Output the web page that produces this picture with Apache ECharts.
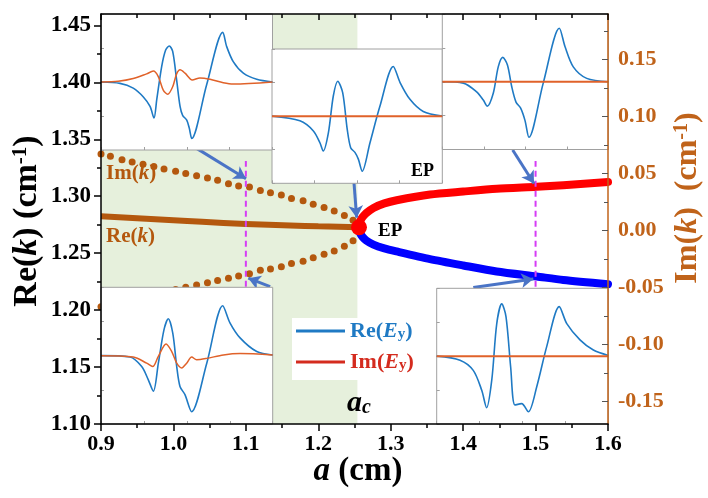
<!DOCTYPE html>
<html><head><meta charset="utf-8">
<script src="https://cdn.jsdelivr.net/npm/echarts@6/dist/echarts.min.js"></script>
<style>html,body{margin:0;padding:0;background:#fff}#c{width:708px;height:498px}</style>
</head><body><div id="c"></div>
<script>
// ---------------- main chart data ----------------
const aC = 1.254;                       // edge of shaded region (a_c)
const leftLabels  = [1.10,1.15,1.20,1.25,1.30,1.35,1.40,1.45];
const leftMinor   = [1.125,1.175,1.225,1.275,1.325,1.375,1.425];
const rightLabels = [-0.15,-0.10,-0.05,0.00,0.05,0.10,0.15];
const rightMinor  = [-0.125,-0.075,-0.025,0.025,0.075,0.125,0.175];

// Im(k) dotted branches (right axis)
const imA     = [0.900,0.913,0.929,0.943,0.958,0.973,0.987,1.003,1.017,1.032,1.047,1.061,1.076,1.090,1.105,1.120,1.134,1.149,1.163,1.179,1.193,1.208,1.222,1.236,1.248];
const imUpper = [0.067,0.065,0.062,0.060,0.058,0.056,0.054,0.052,0.050,0.048,0.046,0.044,0.041,0.039,0.038,0.035,0.033,0.031,0.028,0.026,0.023,0.020,0.017,0.013,0.009];
const imLower = [-0.067,-0.065,-0.062,-0.060,-0.058,-0.056,-0.054,-0.052,-0.050,-0.048,-0.046,-0.044,-0.042,-0.040,-0.038,-0.035,-0.034,-0.032,-0.029,-0.027,-0.024,-0.021,-0.018,-0.014,-0.009];

// Re(k) single line (left axis)
const reA = [0.900,1.000,1.100,1.200,1.256];
const reV = [1.2824,1.2790,1.2757,1.2737,1.2727];

// split branches above EP (left axis)
const redA  = [1.2562,1.2567,1.2582,1.2612,1.2662,1.2762,1.2912,1.3083,1.3543,1.4002,1.4463,1.5016,1.5383,1.6000];
const redV  = [1.2727,1.2757,1.2787,1.2817,1.2852,1.2897,1.2937,1.2965,1.3015,1.3041,1.3065,1.3083,1.3097,1.3125];
const blueA = [1.2562,1.2567,1.2582,1.2612,1.2662,1.2762,1.2912,1.3083,1.3543,1.4002,1.4463,1.5016,1.5383,1.6000];
const blueV = [1.2727,1.2697,1.2669,1.2642,1.2612,1.2575,1.2542,1.2515,1.2448,1.2392,1.2339,1.2295,1.2265,1.2228];

const epPoint = [1.2562,1.2727];
const dashA = [1.10,1.50];
const dashRange = [1.2206,1.3309];

// arrows [from a, from v, to a, to v]
const arrows = [
  [1.0298,1.3429,1.1002,1.3153],
  [1.1335,1.2206,1.1034,1.2280],
  [1.2493,1.3118,1.2530,1.2812],
  [1.4684,1.3406,1.4978,1.3112],
  [1.4140,1.2198,1.4969,1.2274]
];

// ---------------- inset spectra (normalised x, field amplitude) ----------------
const insetA_re = [[0,0],[.111,-.02],[.188,-.09],[.247,-.22],[.286,-.36],[.309,-.53],[.325,-.26],[.354,.23],[.377,.47],[.398,.53],[.418,.45],[.441,.03],[.461,-.36],[.476,-.49],[.500,-.56],[.515,-.68],[.529,-.83],[.616,-.04],[.710,.73],[.733,.52],[.771,.30],[.830,.13],[.908,.04],[1,0]];
const insetA_im = [[0,0],[.100,.01],[.188,.05],[.266,.12],[.305,.16],[.334,.08],[.363,-.12],[.389,-.18],[.418,-.07],[.441,.12],[.461,.18],[.490,.13],[.532,.03],[.577,.06],[.636,.04],[.713,-.01],[.771,-.03],[1,0]];
const insetA_lines = [.299,.480,.529,.713];

const insetB_re = [[0,0],[.164,-.07],[.243,-.22],[.282,-.40],[.301,-.52],[.331,-.25],[.360,.30],[.386,.52],[.415,.35],[.442,-.20],[.462,-.47],[.487,-.54],[.507,-.64],[.530,-.82],[.575,-.40],[.634,.15],[.712,.74],[.752,.50],[.810,.25],[.888,.07],[1,0]];
const insetB_im = [[0,0],[1,0]];
const insetB_lines = [.288,.471,.530,.712];

const insetC_re = [[0,0],[.127,-.02],[.207,-.15],[.247,-.27],[.271,-.36],[.307,-.17],[.337,.22],[.364,.36],[.392,.25],[.418,-.07],[.444,-.30],[.472,-.39],[.498,-.57],[.522,-.82],[.608,-.02],[.705,.79],[.739,.52],[.789,.22],[.870,.05],[1,0]];
const insetC_im = [[0,0],[1,0]];
const insetC_lines = [.263,.452,.518,.705];

const insetD_re = [[0,0],[.169,-.02],[.237,-.16],[.275,-.35],[.305,-.52],[.334,-.11],[.367,.38],[.392,.54],[.418,.33],[.441,-.16],[.460,-.45],[.489,-.57],[.528,-.82],[.616,-.11],[.709,.73],[.751,.48],[.810,.26],[.907,.06],[1,.01]];
const insetD_im = [[0,0],[.188,-.02],[.266,-.11],[.301,-.16],[.334,-.01],[.379,.17],[.412,.06],[.441,-.11],[.470,-.18],[.499,-.11],[.528,-.02],[.557,-.06],[.616,-.04],[.713,.01],[.810,.03],[1,.01]];
const insetD_lines = [.291,.474,.524,.709];

const insetE_re = [[0,0],[.136,-.06],[.213,-.21],[.262,-.50],[.291,-.76],[.321,-.35],[.350,.48],[.379,.77],[.404,.58],[.431,-.16],[.456,-.72],[.495,-.70],[.534,-.82],[.583,-.45],[.641,.14],[.714,.73],[.758,.48],[.835,.24],[.913,.09],[1,.01]];
const insetE_im = [[0,0],[1,0]];
const insetE_lines = [.281,.462,.534,.714];

// ---------------- styles ----------------
const FONT = 'Liberation Serif';
const BROWN = '#b4580e', BROWN_AX = '#c0631a';
const ARROW = '#4a74c6', MAGENTA = '#d63cf5', GREEN = '#e6f0dc';
const IBLUE = '#1f7ac4', IORANGE = '#e0622a', IYELLOW = '#f6d28a', IGREY = '#a0a0a0';
const LRED = '#d42b1e';

function rt(size, color, style, extra){
  return Object.assign({fontFamily:FONT, fontSize:size, fill:color, fontWeight:'bold', fontStyle:style||'normal'}, extra||{});
}
const zip = (a,b)=>a.map((x,i)=>[x,b[i]]);

const chart = echarts.init(document.getElementById('c'), null, {renderer:'canvas'});

const grids = [{left:101, top:14, width:507, height:410, show:false}];
const xAxes = [
  {gridIndex:0, type:'value', min:0.9, max:1.6, interval:0.1, position:'bottom', z:20,
   axisLine:{onZero:false, lineStyle:{color:'#000', width:1.5}},
   axisTick:{inside:false, length:7, lineStyle:{color:'#000', width:1.5}},
   minorTick:{show:true, splitNumber:2, length:4, lineStyle:{color:'#000', width:1.5}},
   splitLine:{show:false}, minorSplitLine:{show:false},
   axisLabel:{formatter:v=>v.toFixed(1), fontFamily:FONT, fontWeight:'bold', fontSize:22, color:'#000', margin:9}},
  {gridIndex:0, type:'value', min:0.9, max:1.6, interval:0.1, position:'top', z:20,
   axisLine:{onZero:false, lineStyle:{color:'#000', width:1.5}},
   axisTick:{inside:true, length:6, lineStyle:{color:'#000', width:1.5}},
   minorTick:{show:true, splitNumber:2, length:4, lineStyle:{color:'#000', width:1.5}},
   splitLine:{show:false}, minorSplitLine:{show:false}, axisLabel:{show:false}}
];
const yAxes = [
  {gridIndex:0, type:'value', min:1.10, max:1.46, position:'left', z:20,
   axisLine:{show:true, onZero:false, lineStyle:{color:'#000', width:1.5}},
   axisTick:{show:true, inside:false, length:7, customValues:leftLabels, lineStyle:{color:'#000', width:1.5}},
   axisLabel:{customValues:leftLabels, formatter:v=>v.toFixed(2), fontFamily:FONT, fontWeight:'bold', fontSize:23, color:'#000', margin:10},
   splitLine:{show:false}},
  {gridIndex:0, type:'value', min:-0.17, max:0.19, position:'right', z:20,
   axisLine:{show:true, onZero:false, lineStyle:{color:BROWN_AX, width:1.5}},
   axisTick:{show:true, inside:true, length:6, customValues:rightLabels, lineStyle:{color:'#555', width:1}},
   axisLabel:{customValues:rightLabels, formatter:v=>v.toFixed(2), fontFamily:FONT, fontWeight:'bold', fontSize:22, color:BROWN_AX, margin:10},
   splitLine:{show:false}},
  {gridIndex:0, type:'value', min:1.10, max:1.46, position:'left', z:20,
   axisLine:{show:false, onZero:false}, axisLabel:{show:false}, splitLine:{show:false},
   axisTick:{show:true, inside:false, length:4, customValues:leftMinor, lineStyle:{color:'#000', width:1.5}}},
  {gridIndex:0, type:'value', min:-0.17, max:0.19, position:'right', z:20,
   axisLine:{show:false, onZero:false}, axisLabel:{show:false}, splitLine:{show:false},
   axisTick:{show:true, inside:true, length:4, customValues:rightMinor, lineStyle:{color:'#555', width:1}}}
];

const series = [
  {type:'line', xAxisIndex:0, yAxisIndex:0, data:[], z:1, silent:true,
   markArea:{silent:true, itemStyle:{color:GREEN}, data:[[{xAxis:0.9},{xAxis:aC}]]}},
  {type:'scatter', xAxisIndex:0, yAxisIndex:1, data:zip(imA, imUpper), symbolSize:7, itemStyle:{color:BROWN, opacity:1}, z:3, silent:true},
  {type:'scatter', xAxisIndex:0, yAxisIndex:1, data:zip(imA, imLower), symbolSize:7, itemStyle:{color:BROWN, opacity:1}, z:3, silent:true},
  {type:'line', xAxisIndex:0, yAxisIndex:0, data:zip(reA, reV), showSymbol:false, smooth:true, lineStyle:{color:BROWN, width:6}, z:3, silent:true},
  {type:'line', xAxisIndex:0, yAxisIndex:0, data:zip(redA, redV), showSymbol:false, smooth:0.25, lineStyle:{color:'#ff0000', width:8, cap:'round', join:'round'}, z:4, silent:true},
  {type:'line', xAxisIndex:0, yAxisIndex:0, data:zip(blueA, blueV), showSymbol:false, smooth:0.25, lineStyle:{color:'#0000ff', width:8, cap:'round', join:'round'}, z:4, silent:true},
  {type:'scatter', xAxisIndex:0, yAxisIndex:0, data:[epPoint], symbolSize:16, itemStyle:{color:'#ff0000', opacity:1}, z:6, silent:true},
];
dashA.forEach(a=>{
  series.push({type:'line', xAxisIndex:0, yAxisIndex:0, data:[[a,dashRange[0]],[a,dashRange[1]]], showSymbol:false,
    lineStyle:{color:MAGENTA, width:2, type:[6,4]}, z:4, silent:true});
});
series.push({type:'line', xAxisIndex:0, yAxisIndex:0, data:[], z:5, silent:true,
  markLine:{silent:true, symbol:['none','arrow'], symbolSize:[11,12], label:{show:false},
    lineStyle:{color:ARROW, width:3, type:'solid'},
    data:arrows.map(r=>[{coord:[r[0],r[1]]},{coord:[r[2],r[3]]}])}});

// ---------------- insets ----------------
const insets = [
  {pos:[101,14,171.5,136],    re:insetA_re, im:insetA_im, lines:insetA_lines, imW:1.5},
  {pos:[272,49,170.3,134.3],  re:insetB_re, im:insetB_im, lines:insetB_lines, imW:2},
  {pos:[442.3,14,166,135.5],  re:insetC_re, im:insetC_im, lines:insetC_lines, imW:2},
  {pos:[101,287.3,171.7,136.7], re:insetD_re, im:insetD_im, lines:insetD_lines, imW:1.5},
  {pos:[436.7,288.3,171.6,135.7], re:insetE_re, im:insetE_im, lines:insetE_lines, imW:2}
];
insets.forEach((ins,i)=>{
  const g = i+1, xi = xAxes.length, yi = yAxes.length;
  grids.push({left:ins.pos[0], top:ins.pos[1], width:ins.pos[2], height:ins.pos[3], show:true,
    backgroundColor:'#fff', borderColor:IGREY, borderWidth:1, z:10});
  xAxes.push({gridIndex:g, type:'value', min:0, max:1, interval:0.25, z:11,
    axisLine:{show:false, onZero:false}, axisLabel:{show:false}, splitLine:{show:false},
    axisTick:{show:true, inside:true, length:3, lineStyle:{color:IGREY}}});
  yAxes.push({gridIndex:g, type:'value', min:-1, max:1, interval:0.5, z:11,
    axisLine:{show:false, onZero:false}, axisLabel:{show:false}, splitLine:{show:false},
    axisTick:{show:true, inside:true, length:3, lineStyle:{color:IGREY}}});
  series.push({type:'line', xAxisIndex:xi, yAxisIndex:yi, data:[], z:11, silent:true,
    markLine:{silent:true, symbol:'none', label:{show:false},
      lineStyle:{color:IYELLOW, width:1, type:'solid'}, data:ins.lines.map(u=>({xAxis:u}))}});
  series.push({type:'line', xAxisIndex:xi, yAxisIndex:yi, data:ins.re, showSymbol:false, smooth:0.3,
    lineStyle:{color:IBLUE, width:1.6}, z:12, silent:true});
  series.push({type:'line', xAxisIndex:xi, yAxisIndex:yi, data:ins.im, showSymbol:false, smooth:0.3,
    lineStyle:{color:IORANGE, width:ins.imW}, z:13, silent:true});
});

// ---------------- texts ----------------
function txt(x,y,text,rich,opts){
  return Object.assign({type:'text', x:x, y:y, z:30, silent:true,
    style:{text:text, rich:rich, align:'left', verticalAlign:'middle', textAlign:'left', textVerticalAlign:'middle'}}, opts||{});
}
const graphics = [
  // legend box
  {type:'rect', z:29, silent:true, shape:{x:292,y:318,width:128,height:62}, style:{fill:'#fff'}},
  {type:'line', z:30, silent:true, shape:{x1:296,y1:331,x2:345,y2:331}, style:{stroke:IBLUE, lineWidth:3}},
  {type:'line', z:30, silent:true, shape:{x1:296,y1:362,x2:345,y2:362}, style:{stroke:LRED, lineWidth:3}},
  txt(350,331,'{n|Re(}{i|E}{s|y}{n|)}', {n:rt(22,IBLUE), i:rt(22,IBLUE,'italic'), s:rt(15,IBLUE,'normal',{verticalAlign:'bottom'})}),
  txt(350,362,'{n|Im(}{i|E}{s|y}{n|)}', {n:rt(22,LRED), i:rt(22,LRED,'italic'), s:rt(15,LRED,'normal',{verticalAlign:'bottom'})}),
  // in-plot labels
  txt(106,174,'{n|Im(}{i|k}{n|)}', {n:rt(21,BROWN), i:rt(21,BROWN,'italic')}),
  txt(106,237,'{n|Re(}{i|k}{n|)}', {n:rt(21,BROWN), i:rt(21,BROWN,'italic')}),
  txt(378,231,'{n|EP}', {n:rt(19,'#000')}),
  txt(411,171,'{n|EP}', {n:rt(18,'#000')}),
  txt(347,403,'{i|a}{s|c}', {i:rt(30,'#000','italic'), s:rt(20,'#000','italic',{verticalAlign:'bottom'})}),
  // axis titles
  {type:'text', x:27, y:221, z:30, silent:true, rotation:Math.PI/2,
   style:{text:'{n|Re(}{i|k}{n|) (cm}{p|-1}{n|)}', align:'center', verticalAlign:'middle', textAlign:'center', textVerticalAlign:'middle',
     rich:{n:rt(34,'#000'), i:rt(34,'#000','italic'), p:rt(21,'#000','normal',{verticalAlign:'top'})}}},
  {type:'text', x:688, y:198, z:30, silent:true, rotation:Math.PI/2,
   style:{text:'{n|Im(}{i|k}{n|)  (cm}{p|-1}{n|)}', align:'center', verticalAlign:'middle', textAlign:'center', textVerticalAlign:'middle',
     rich:{n:rt(32,BROWN_AX), i:rt(32,BROWN_AX,'italic'), p:rt(20,BROWN_AX,'normal',{verticalAlign:'top'})}}},
  {type:'text', x:358, y:471, z:30, silent:true,
   style:{text:'{i|a}{n| (cm)}', align:'center', verticalAlign:'middle', textAlign:'center', textVerticalAlign:'middle',
     rich:{n:rt(33,'#000'), i:rt(33,'#000','italic')}}}
];

chart.setOption({
  animation:false,
  backgroundColor:'#fff',
  grid:grids, xAxis:xAxes, yAxis:yAxes, series:series, graphic:graphics
});
</script></body></html>
